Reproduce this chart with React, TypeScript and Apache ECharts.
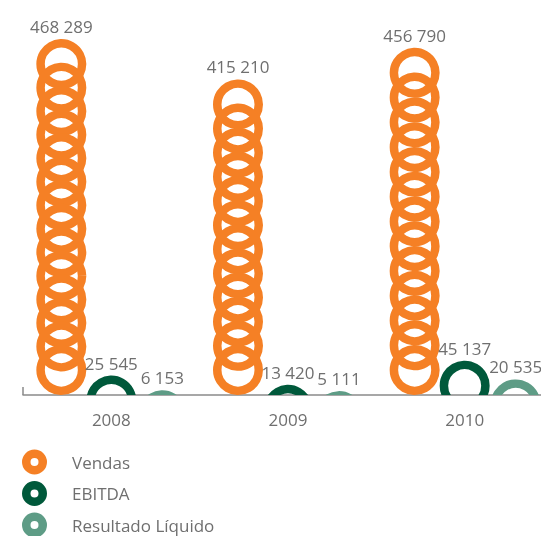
import React, { useEffect, useRef } from "react";
import * as echarts from "echarts";

const years = ["2008", "2009", "2010"];
const seriesNames = ["Vendas", "EBITDA", "Resultado Líquido"];
const vendas = [468289, 415210, 456790];
const ebitda = [25545, 13420, 45137];
const resultado = [6153, 5111, 20535];

const colors = ["#F58025", "#00593B", "#5E9C86"];
const offsets = [-50, 0, 51];
const FONT = "'Open Sans', 'Noto Sans', sans-serif";
const TEXT = "#6f6f6f";
const RING_OUT = 25;
const RING_W = 8.5;
const PREF_STEP = 24.4;

const fmt = (v: number) => String(v).replace(/\B(?=(\d{3})+(?!\d))/g, " ");

const donut =
  "path://M12.5,0A12.5,12.5,0,1,1,12.5,25A12.5,12.5,0,1,1,12.5,0ZM12.5,8.5A4,4,0,1,0,12.5,16.5A4,4,0,1,0,12.5,8.5Z";

function makeRender(si: number) {
  return (params: any, api: any) => {
    const cat = api.value(0);
    const val = api.value(1);
    const top = api.coord([cat, val]);
    const base = api.coord([cat, 0]);
    const x = top[0] + offsets[si];
    const H = base[1] - top[1];
    const D = RING_OUT * 2;
    let n = 1;
    let step = 0;
    if (H > D) {
      n = Math.max(1, Math.round((H - D) / PREF_STEP) + 1);
      step = n > 1 ? (H - D) / (n - 1) : 0;
    }
    const children: any[] = [];
    for (let i = 0; i < n; i++) {
      children.push({
        type: "circle",
        shape: { cx: x, cy: top[1] + i * step + RING_OUT, r: RING_OUT - RING_W / 2 },
        style: { fill: "none", stroke: colors[si], lineWidth: RING_W },
      });
    }
    children.push({
      type: "text",
      style: {
        text: fmt(val),
        x: x,
        y: top[1] - 4,
        align: "center",
        verticalAlign: "bottom",
        fill: TEXT,
        font: `17px ${FONT}`,
      },
    });
    return { type: "group", children };
  };
}

export default function App() {
  const ref = useRef<HTMLDivElement>(null);
  useEffect(() => {
    if (!ref.current) return;
    const chart = echarts.init(ref.current, null, { renderer: "svg" });
    const all = [vendas, ebitda, resultado];
    chart.setOption({
      animation: false,
      textStyle: { fontFamily: FONT },
      grid: { left: 23, right: 7, top: 15, bottom: 141 },
      xAxis: {
        type: "category",
        data: years,
        boundaryGap: true,
        axisLine: { show: true, lineStyle: { color: "#8a8a8a", width: 1.5 } },
        axisTick: {
          show: true,
          inside: true,
          length: 8,
          interval: (i: number) => i === 0,
          lineStyle: { color: "#8a8a8a", width: 1.5 },
        },
        axisLabel: { color: TEXT, fontSize: 17, fontFamily: FONT, margin: 16 },
      },
      yAxis: {
        type: "value",
        min: 0,
        max: 500000,
        show: false,
        splitLine: { show: false },
      },
      legend: {
        orient: "vertical",
        left: 22,
        top: 449.5,
        height: 120,
        padding: 0,
        itemWidth: 25,
        itemHeight: 25,
        itemGap: 6.5,
        icon: donut,
        data: seriesNames,
        textStyle: { fontSize: 17, color: TEXT, fontFamily: FONT, padding: [0, 0, 0, 20] },
      },
      series: seriesNames.map((name, si) => ({
        name,
        type: "custom",
        clip: true,
        itemStyle: { color: colors[si] },
        encode: { x: 0, y: 1 },
        data: all[si].map((v, i) => [i, v]),
        renderItem: makeRender(si),
      })),
    });
    return () => chart.dispose();
  }, []);
  return (
    <div
      style={{
        position: "fixed",
        left: 0,
        top: 0,
        width: 541,
        height: 536,
        overflow: "hidden",
      }}
    >
      <div ref={ref} style={{ width: 560, height: 536 }} />
    </div>
  );
}
